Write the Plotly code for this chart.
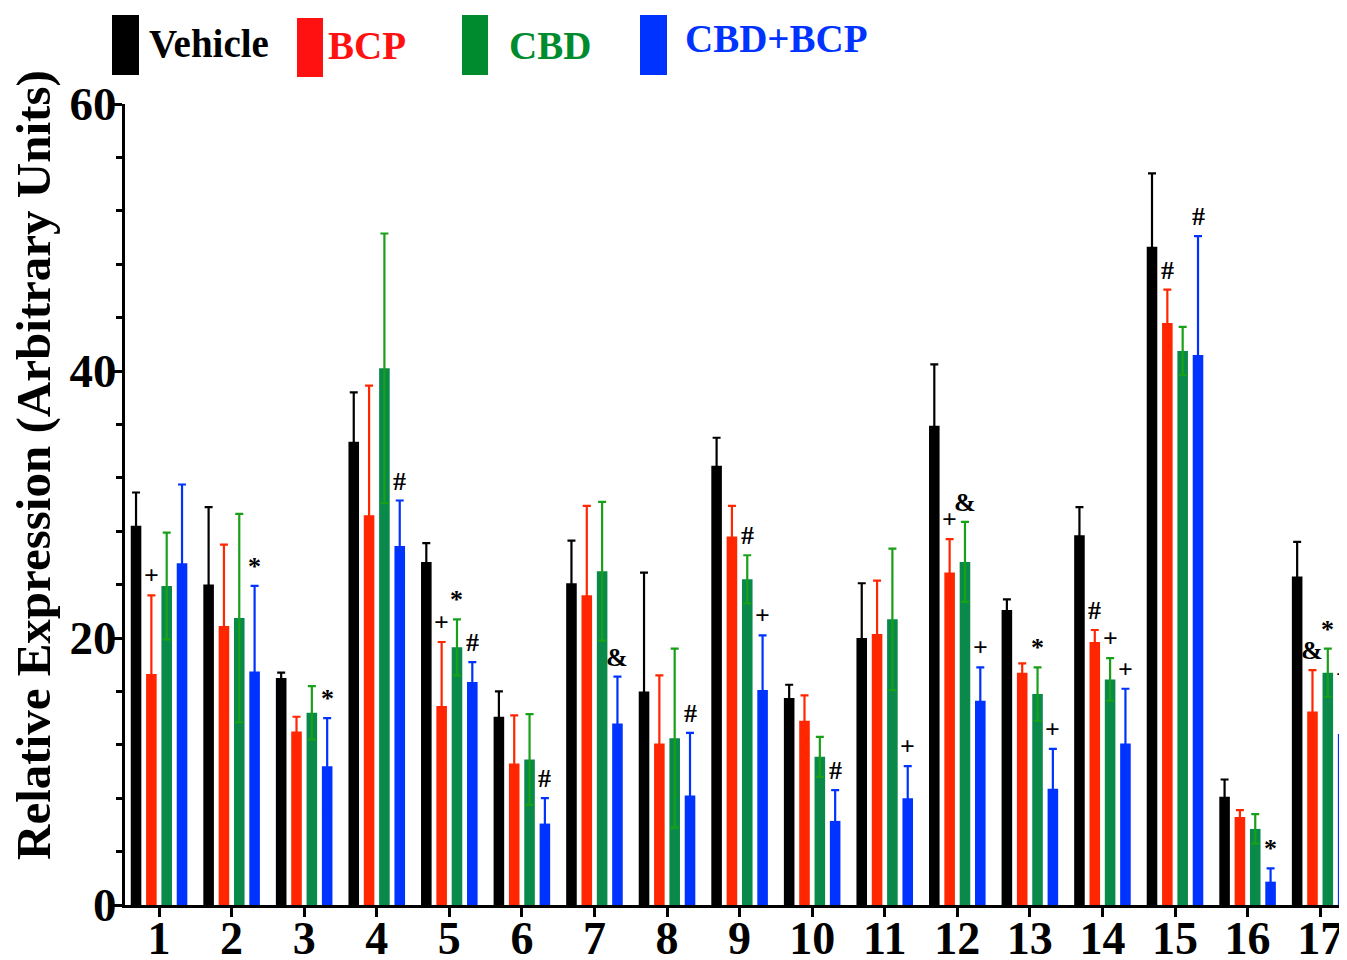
import plotly.graph_objects as go

groups = [str(i) for i in range(1, 18)]
series_names = ["Vehicle", "BCP", "CBD", "CBD+BCP"]

vehicle = [28.4, 24.0, 17.0, 34.7, 25.7, 14.1, 24.1, 16.0, 32.9, 15.5, 20.0, 35.9, 22.1, 27.7, 49.3, 8.1, 24.6]
vehicle_err = [2.5, 5.8, 0.4, 3.7, 1.4, 1.9, 3.2, 8.9, 2.1, 1.0, 4.1, 4.6, 0.8, 2.1, 5.5, 1.3, 2.6]
bcp = [17.3, 20.9, 13.0, 29.2, 14.9, 10.6, 23.2, 12.1, 27.6, 13.8, 20.3, 24.9, 17.4, 19.7, 43.6, 6.6, 14.5]
bcp_err = [5.9, 6.1, 1.1, 9.7, 4.8, 3.6, 6.7, 5.1, 2.3, 1.9, 4.0, 2.5, 0.7, 0.9, 2.5, 0.5, 3.1]
cbd = [23.9, 21.5, 14.4, 40.2, 19.3, 10.9, 25.0, 12.5, 24.4, 11.1, 21.4, 25.7, 15.8, 16.9, 41.5, 5.7, 17.4]
cbd_err = [4.0, 7.8, 2.0, 10.1, 2.1, 3.4, 5.2, 6.7, 1.8, 1.5, 5.3, 3.0, 2.0, 1.6, 1.8, 1.1, 1.8]
combo = [25.6, 17.5, 10.4, 26.9, 16.7, 6.1, 13.6, 8.2, 16.1, 6.3, 8.0, 15.3, 8.7, 12.1, 41.2, 1.75, 12.8]
combo_err = [5.9, 6.4, 3.6, 3.4, 1.5, 1.9, 3.5, 4.7, 4.1, 2.3, 2.4, 2.5, 3.0, 4.1, 8.9, 1.0, 3.0]

# significance marks: (group number, series index, symbol)
marks = [
    (1, 1, "+"), (2, 3, "*"), (3, 3, "*"), (4, 3, "#"),
    (5, 1, "+"), (5, 2, "*"), (5, 3, "#"), (6, 3, "#"),
    (7, 3, "&"), (8, 3, "#"), (9, 2, "#"), (9, 3, "+"),
    (10, 3, "#"), (11, 3, "+"), (12, 1, "+"), (12, 2, "&"),
    (12, 3, "+"), (13, 2, "*"), (13, 3, "+"), (14, 1, "#"),
    (14, 2, "+"), (14, 3, "+"), (15, 1, "#"), (15, 3, "#"),
    (16, 3, "*"), (17, 1, "&"), (17, 2, "*"), (17, 3, "+"),
]

values = [vehicle, bcp, cbd, combo]
errors = [vehicle_err, bcp_err, cbd_err, combo_err]
bar_colors = ["#000000", "#FF2600", "#0A8A4A", "#0033FF"]
err_colors = ["#000000", "#FF2600", "#18A018", "#0033FF"]
legend_colors = ["#000000", "#FF1111", "#008C2E", "#0033FF"]

FONT = "Liberation Serif, Times New Roman, serif"
xpos = list(range(1, 18))

# page offset caused by default body margin
OFF = 8
W, H = 1347, 960
# target plot area in page pixels
L, R, T, B = 125, 1347, 104, 905

BARGAP = 0.155
fig = go.Figure()
for k in range(4):
    fig.add_trace(go.Bar(
        x=xpos, y=values[k], name=series_names[k],
        marker=dict(color=bar_colors[k], line=dict(width=0)),
        error_y=dict(type="data", array=errors[k], color=err_colors[k],
                     thickness=2.2, width=4),
    ))

slot = (1 - BARGAP) / 4
for g, s, sym in marks:
    xi = g + (s - 1.5) * slot
    top = values[s][g - 1] + errors[s][g - 1]
    fig.add_annotation(x=xi, y=top, text=sym, showarrow=False,
                       xanchor="center", yanchor="bottom", yshift=3,
                       font=dict(family=FONT, size=26, color="black", weight="bold"))

def px(x):
    return (x - L) / (R - L)
def py(y):
    return (B - y) / (B - T)

rects = [(112, 139, 15, 75), (297, 323, 18, 77), (462, 488, 15, 75), (640, 667, 15, 75)]
texts = [(147, 43), (326, 45), (507, 45), (683, 38)]
for k in range(4):
    x0, x1, y0, y1 = rects[k]
    fig.add_shape(type="rect", xref="paper", yref="paper",
                  x0=px(x0), x1=px(x1), y0=py(y1), y1=py(y0),
                  fillcolor=legend_colors[k], line=dict(width=0))
    tx, ty = texts[k]
    fig.add_annotation(xref="paper", yref="paper", x=px(tx), y=py(ty),
                       text=series_names[k], showarrow=False,
                       xanchor="left", yanchor="middle",
                       font=dict(family=FONT, size=39, color=legend_colors[k], weight="bold"))

# y-axis title
fig.add_annotation(xref="paper", yref="paper", x=px(33), y=py(465),
                   text="Relative Expression (Arbitrary Units)", textangle=-90,
                   showarrow=False, xanchor="center", yanchor="middle",
                   font=dict(family=FONT, size=49, color="black", weight="bold"))

fig.update_layout(
    width=W, height=H,
    margin=dict(l=L - OFF, r=W - R + OFF, t=T - OFF, b=H - B + OFF, pad=0),
    paper_bgcolor="white", plot_bgcolor="white",
    barmode="group", bargap=BARGAP, bargroupgap=0.31,
    showlegend=False,
    font=dict(family=FONT, color="black"),
)
fig.update_xaxes(
    range=[0.531, 17.37], tickmode="array", tickvals=xpos, ticktext=groups,
    showline=True, linecolor="black", linewidth=3,
    ticks="outside", ticklen=9, tickwidth=3, tickcolor="black",
    tickfont=dict(family=FONT, size=46, color="black", weight="bold"),
    ticklabelstandoff=-18,
    showgrid=False, zeroline=False, automargin=False,
)
fig.update_yaxes(
    range=[0, 60], tickmode="linear", tick0=0, dtick=20,
    showline=True, linecolor="black", linewidth=3,
    ticks="outside", ticklen=9, tickwidth=3, tickcolor="black",
    minor=dict(dtick=4, ticks="outside", ticklen=6, tickwidth=2.5, tickcolor="black", showgrid=False),
    tickfont=dict(family=FONT, size=47, color="black", weight="bold"),
    ticklabelstandoff=-13,
    showgrid=False, zeroline=False, automargin=False,
)

fig.write_html("out.html")
